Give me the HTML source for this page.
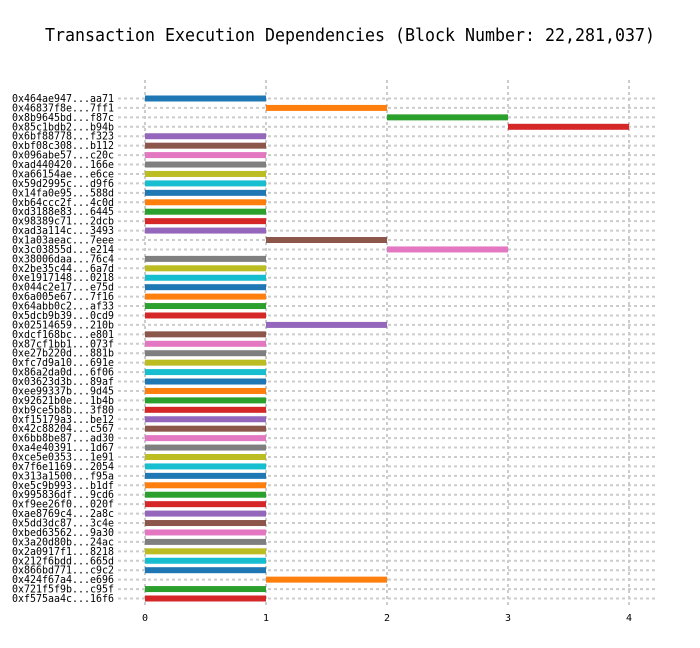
<!DOCTYPE html>
<html><head><meta charset="utf-8"><style>
body{margin:0;background:#fff;}
svg{display:block;font-family:"DejaVu Sans Mono","Liberation Mono",monospace;}
</style></head><body>
<svg id="chart" width="700" height="648" viewBox="0 0 700 648" xmlns="http://www.w3.org/2000/svg">
<text x="350" y="41" text-anchor="middle" font-size="17.5" textLength="610" lengthAdjust="spacingAndGlyphs" fill="#000">Transaction Execution Dependencies (Block Number: 22,281,037)</text>
<g id="grid"></g><g id="bars"></g><g id="ylabels"></g><g id="xticks"></g>
</svg>
<script>
const txLabels=["0x464ae947...aa71","0x46837f8e...7ff1","0x8b9645bd...f87c","0x85c1bdb2...b94b","0x6bf88778...f323","0xbf08c308...b112","0x096abe57...c20c","0xad440420...166e","0xa66154ae...e6ce","0x59d2995c...d9f6","0x14fa0e95...588d","0xb64ccc2f...4c0d","0xd3188e83...6445","0x98389c71...2dcb","0xad3a114c...3493","0x1a03aeac...7eee","0x3c03855d...e214","0x38006daa...76c4","0x2be35c44...6a7d","0xe1917148...0218","0x044c2e17...e75d","0x6a005e67...7f16","0x64abb0c2...af33","0x5dcb9b39...0cd9","0x02514659...210b","0xdcf168bc...e801","0x87cf1bb1...073f","0xe27b220d...881b","0xfc7d9a10...691e","0x86a2da0d...6f06","0x03623d3b...89af","0xee99337b...9d45","0x92621b0e...1b4b","0xb9ce5b8b...3f80","0xf15179a3...be12","0x42c88204...c567","0x6bb8be87...ad30","0xa4e40391...1d67","0xce5e0353...1e91","0x7f6e1169...2054","0x313a1500...f95a","0xe5c9b993...b1df","0x995836df...9cd6","0xf9ee26f0...020f","0xae8769c4...2a8c","0x5dd3dc87...3c4e","0xbed63562...9a30","0x3a20d80b...24ac","0x2a0917f1...8218","0x212f6bdd...665d","0x866bd771...c9c2","0x424f67a4...e696","0x721f5f9b...c95f","0xf575aa4c...16f6"];
const startLevels=[0,1,2,3,0,0,0,0,0,0,0,0,0,0,0,1,2,0,0,0,0,0,0,0,1,0,0,0,0,0,0,0,0,0,0,0,0,0,0,0,0,0,0,0,0,0,0,0,0,0,0,1,0,0];
const durations=[1,1,1,1,1,1,1,1,1,1,1,1,1,1,1,1,1,1,1,1,1,1,1,1,1,1,1,1,1,1,1,1,1,1,1,1,1,1,1,1,1,1,1,1,1,1,1,1,1,1,1,1,1,1];
const xTicks=[0,1,2,3,4];
const palette=["#1f77b4","#ff7f0e","#2ca02c","#d62728","#9467bd","#8c564b","#e377c2","#7f7f7f","#bcbd22","#17becf"];
const NS="http://www.w3.org/2000/svg";
const x=v=>145+v*121;
const y=i=>98.5+i*(500/(txLabels.length-1));
const mk=(t,a,p)=>{const e=document.createElementNS(NS,t);for(const k in a)e.setAttribute(k,a[k]);p.appendChild(e);return e;};
const grid=document.getElementById('grid'),bars=document.getElementById('bars'),yl=document.getElementById('ylabels'),xt=document.getElementById('xticks');
txLabels.forEach((lab,i)=>{
  const g=mk('line',{x1:118,x2:658,y1:y(i),y2:y(i),stroke:'#cccccc','stroke-width':2,'stroke-dasharray':'3,3'},grid);
  
  
  const t=mk('text',{x:114,y:y(i)+3.5,'text-anchor':'end','font-size':10.5,textLength:102,lengthAdjust:'spacingAndGlyphs',fill:'#000'},yl);
  t.textContent=lab;
  
  
});
xTicks.forEach(v=>{
  const g=mk('line',{x1:x(v),x2:x(v),y1:80,y2:606,stroke:'#cccccc','stroke-width':2,'stroke-dasharray':'3,3'},grid);
  
  
  const t=mk('text',{x:x(v),y:621,'text-anchor':'middle','font-size':10,fill:'#000'},xt);
  t.textContent=String(v);
  
  
});
txLabels.forEach((lab,i)=>{
  const r=mk('rect',{x:x(startLevels[i]),y:y(i)-3,width:x(startLevels[i]+durations[i])-x(startLevels[i]),height:6,fill:palette[i%10]},bars);
  
  
});
</script>
</body></html>
